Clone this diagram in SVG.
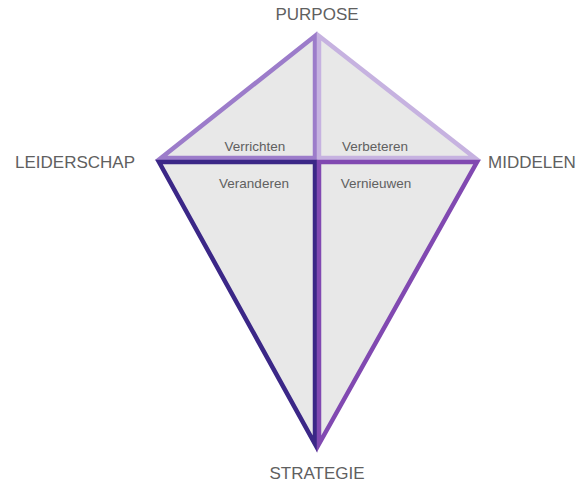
<svg xmlns="http://www.w3.org/2000/svg" width="587" height="483" viewBox="0 0 587 483">
<style>
.q{fill:#e8e8e8;stroke-width:4.5;stroke-linejoin:miter;stroke-miterlimit:10}
.lbl{font-family:"Liberation Sans",Arial,sans-serif;font-size:17px;fill:#606060}
.in{font-family:"Liberation Sans",Arial,sans-serif;font-size:13.5px;fill:#606060}
</style>
<rect width="587" height="483" fill="#ffffff"/>
<g id="connectors">
<polygon id="q-tl" class="q" points="315,36 161,158 315,158" stroke="#9c7cca"/>
<polygon id="q-tr" class="q" points="319,36 475,158 319,158" stroke="#c6b2e0"/>
<polygon id="q-bl" class="q" points="159,162 315,162 315,444" stroke="#3b2787"/>
<polygon id="q-br" class="q" points="319,162 477,162 319,444" stroke="#8149b1"/>
</g>
<g id="purpose"><text class="lbl" x="317" y="20" text-anchor="middle">PURPOSE</text></g>
<g id="leiderschap"><text class="lbl" x="15" y="168">LEIDERSCHAP</text></g>
<g id="middelen"><text class="lbl" x="488" y="168">MIDDELEN</text></g>
<g id="strategie"><text class="lbl" x="317" y="479" text-anchor="middle">STRATEGIE</text></g>
<g id="verrichten"><text class="in" x="255" y="151" text-anchor="middle">Verrichten</text></g>
<g id="verbeteren"><text class="in" x="375" y="151" text-anchor="middle">Verbeteren</text></g>
<g id="veranderen"><text class="in" x="254" y="188" text-anchor="middle">Veranderen</text></g>
<g id="vernieuwen"><text class="in" x="376" y="188" text-anchor="middle">Vernieuwen</text></g>
</svg>
